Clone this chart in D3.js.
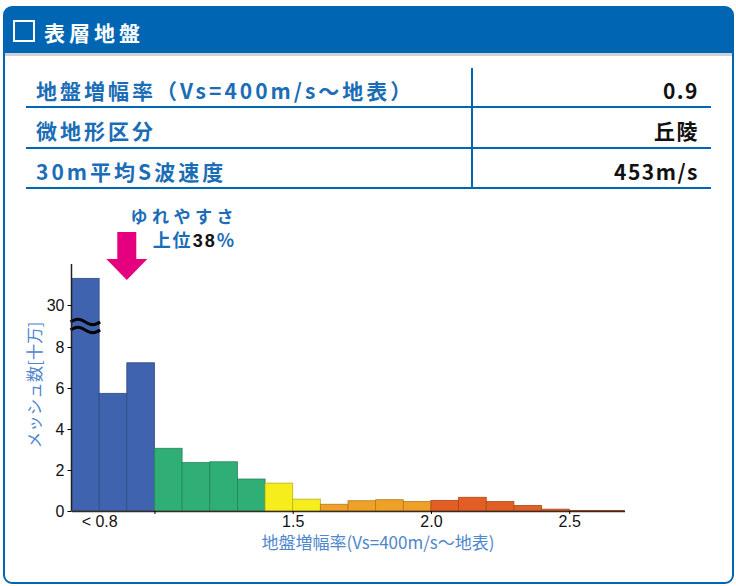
<!DOCTYPE html>
<html lang="ja"><head>
<meta charset="UTF-8">
<title>表層地盤</title>
<script src="https://cdn.jsdelivr.net/npm/d3@7"></script>
<style>
body { margin: 0; background: #fff; }
text { font-family: "Liberation Sans", Arial, sans-serif; }
.jp { font-family: "Noto Sans CJK JP", sans-serif; }
</style>
</head>
<body>
<script>

// data
var binStarts = [0.7, 0.8, 0.9, 1.0, 1.1, 1.2, 1.3, 1.4, 1.5, 1.6, 1.7, 1.8, 1.9, 2.0, 2.1, 2.2, 2.3, 2.4, 2.5, 2.6];
var meshCounts = [31.3, 5.74, 7.23, 3.06, 2.36, 2.40, 1.56, 1.36, 0.58, 0.33, 0.50, 0.55, 0.46, 0.52, 0.67, 0.46, 0.27, 0.09, 0.03, 0.02];
var yTicks = [0, 2, 4, 6, 8, 30];
var xTicks = [0.8, 1.0, 1.5, 2.0, 2.5];
var xTickLabels = ["< 0.8", "", "1.5", "2.0", "2.5"];
var tableLabels = ["地盤増幅率（Vs=400m/s〜地表）", "微地形区分", "30m平均S波速度"];
var tableValues = ["0.9", "丘陵", "453m/s"];
var siteValue = 0.9;
var rankPercent = 38;

var width = 736, height = 586;
var blue = "#0066b3";

function binColor(v){
  if(v < 1.0) return "#3f63ae";
  if(v < 1.4) return "#2fae76";
  if(v < 1.6) return "#f6ee1c";
  if(v < 2.0) return "#eea126";
  return "#e35e24";
}

var svg = d3.select("body").append("svg")
  .attr("width", width)
  .attr("height", height);

// panel
svg.append("rect")
  .attr("x", 4).attr("y", 7).attr("width", 729).attr("height", 576)
  .attr("rx", 8)
  .attr("fill", "#fff").attr("stroke", blue).attr("stroke-width", 2);

svg.append("path")
  .attr("d", "M4,53 L4,15 Q4,7 12,7 L725,7 Q733,7 733,15 L733,53 Z")
  .attr("fill", blue);
svg.append("rect").attr("x", 5).attr("y", 53).attr("width", 727).attr("height", 3).attr("fill", "#d2d2d2");

svg.append("rect")
  .attr("x", 14).attr("y", 21).attr("width", 20).attr("height", 20)
  .attr("fill", "none").attr("stroke", "#fff").attr("stroke-width", 2);
svg.append("text").attr("class", "jp")
  .attr("x", 44).attr("y", 41)
  .attr("fill", "#fff").attr("font-size", 21).attr("font-weight", "bold")
  .attr("letter-spacing", 4)
  .text("表層地盤");

// table
var rowLines = [107, 148, 188];
var rowBase = [99, 139, 180];
var tbl = svg.append("g");
tbl.selectAll("line.row").data(rowLines).enter().append("line")
  .attr("x1", 26).attr("x2", 711)
  .attr("y1", function(d){ return d; }).attr("y2", function(d){ return d; })
  .attr("stroke", blue).attr("stroke-width", 2);
tbl.append("line")
  .attr("x1", 472).attr("x2", 472).attr("y1", 68).attr("y2", 189)
  .attr("stroke", blue).attr("stroke-width", 2);
tbl.selectAll("text.lab").data(tableLabels).enter().append("text")
  .attr("class", "jp")
  .attr("x", 36)
  .attr("y", function(d, i){ return rowBase[i]; })
  .attr("fill", "#1a6db6").attr("font-size", 21).attr("font-weight", "bold")
  .attr("letter-spacing", 3)
  .text(function(d){ return d; });
tbl.selectAll("text.val").data(tableValues).enter().append("text")
  .attr("class", "jp")
  .attr("x", 699)
  .attr("y", function(d, i){ return rowBase[i]; })
  .attr("text-anchor", "end")
  .attr("fill", "#111").attr("font-size", 21).attr("font-weight", "bold")
  .attr("letter-spacing", 1.5)
  .text(function(d){ return d; });

// chart
var x = d3.scaleLinear().domain([0.7, 2.7]).range([71.5, 624.5]);
var y = d3.scaleLinear().domain([0, 8, 30, 32]).range([511, 347, 305, 264]);

var chart = svg.append("g");

chart.selectAll("rect.bar").data(binStarts).enter().append("rect")
  .attr("x", function(d){ return x(d); })
  .attr("y", function(d, i){ return y(meshCounts[i]); })
  .attr("width", function(d){ return x(d + 0.1) - x(d); })
  .attr("height", function(d, i){ return y(0) - y(meshCounts[i]); })
  .attr("fill", function(d){ return binColor(d + 0.05); })
  .attr("stroke", function(d){ return d3.color(binColor(d + 0.05)).darker(0.8); })
  .attr("stroke-width", 0.8);

// break mark on first bar
var breakY = (y(8) + y(30)) / 2;
var wave = d3.line().curve(d3.curveBasis);
[-4, 4].forEach(function(off){
  var pts = [];
  var x0 = x(0.7) - 1, x1 = x(0.8) + 1;
  for(var k = 0; k <= 8; k++){
    var px = x0 + (x1 - x0) * k / 8;
    pts.push([px, breakY + off + 3 * Math.sin(k / 8 * Math.PI * 2 + Math.PI)]);
  }
  chart.append("path").attr("d", wave(pts))
    .attr("fill", "none").attr("stroke", "#000").attr("stroke-width", 3);
});

// axes
var yAxis = d3.axisLeft(y).tickValues(yTicks).tickSize(4).tickSizeOuter(0);
var gy = chart.append("g").attr("transform", "translate(" + x(0.7) + ",0)").call(yAxis);
gy.select(".domain").attr("stroke", "#222").attr("stroke-width", 1.5).attr("d", "M0," + y(32) + "V" + y(0));
gy.selectAll("text").attr("font-size", 16).attr("fill", "#111").attr("font-family", "Liberation Sans, Arial, sans-serif");

var xAxis = d3.axisBottom(x).tickValues(xTicks).tickSize(3).tickPadding(6).tickSizeOuter(0)
  .tickFormat(function(d, i){ return xTickLabels[i]; });
var gx = chart.append("g").attr("transform", "translate(0," + y(0) + ")").call(xAxis);
gx.select(".domain").attr("stroke", "#3a2a22").attr("stroke-width", 1.5);
gx.selectAll(".tick line").filter(function(d){ return d === 0.8; }).remove();
gx.selectAll("text").attr("font-size", 16).attr("fill", "#111").attr("dy", "0.42em")
  .attr("font-family", "Liberation Sans, Arial, sans-serif");

chart.append("text").attr("class", "jp")
  .attr("transform", "translate(41," + 385 + ") rotate(-90)")
  .attr("text-anchor", "middle")
  .attr("fill", "#4f87cc").attr("font-size", 16.5)
  .text("メッシュ数[十万]");

chart.append("text").attr("class", "jp")
  .attr("x", 378).attr("y", 549)
  .attr("text-anchor", "middle")
  .attr("fill", "#4f87cc").attr("font-size", 17)
  .text("地盤増幅率(Vs=400m/s〜地表)");

// arrow at site value
var ax = x(siteValue);
chart.append("path")
  .attr("d", "M" + (ax - 9.5) + ",232 H" + (ax + 9.5) + " V259 H" + (ax + 20.5) +
        " L" + ax + ",280 L" + (ax - 20.5) + ",259 H" + (ax - 9.5) + " Z")
  .attr("fill", "#e4007f");

chart.append("text").attr("class", "jp")
  .attr("x", 238).attr("y", 223)
  .attr("text-anchor", "end")
  .attr("fill", "#1a6db6").attr("font-size", 17).attr("font-weight", "bold")
  .attr("letter-spacing", 4.5)
  .text("ゆれやすさ");

var rank = chart.append("text").attr("class", "jp")
  .attr("x", 234).attr("y", 247)
  .attr("text-anchor", "end")
  .attr("font-size", 18).attr("font-weight", "bold");
rank.append("tspan").attr("fill", "#1a6db6").attr("letter-spacing", 2).text("上位");
rank.append("tspan").attr("fill", "#111").attr("letter-spacing", 2).attr("font-family", "Liberation Sans, Arial, sans-serif").text(rankPercent);
rank.append("tspan").attr("fill", "#1a6db6").text("%");

</script>
</body></html>
